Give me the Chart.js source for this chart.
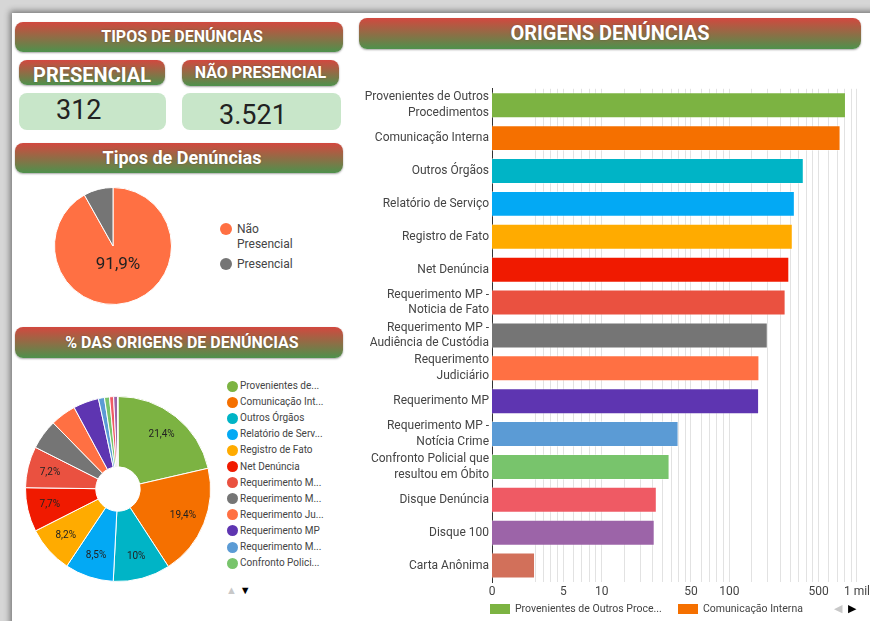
<!DOCTYPE html>
<html>
<head>
<meta charset="utf-8">
<script src="https://cdn.jsdelivr.net/npm/chart.js@4.4.1/dist/chart.umd.min.js"></script>
<style>
  body { margin: 0; width: 870px; height: 621px; overflow: hidden; background: #d6d6d6; font-family: Roboto, sans-serif; position: relative; }
  #panel { position: absolute; left: 12px; top: 13px; width: 900px; height: 660px; background: #fff; box-shadow: 0 0 6px 2px rgba(0,0,0,0.45); }
  .hdr { position: absolute; border-radius: 8px; background: linear-gradient(#d2483f, #4e914c); color: #fff; font-weight: bold; text-align: center; box-shadow: 0 1px 2px rgba(0,0,0,0.35); text-shadow: 0 0 2px rgba(0,0,0,0.25); white-space: nowrap; }
  .kpi { position: absolute; border-radius: 8px; background: #c8e6c9; color: #222; }
  .kpi span { position: absolute; }
  canvas { position: absolute; }
  .leg { position: absolute; font-size: 12px; color: #444; }
  .dot { position: absolute; border-radius: 50%; }
  .arrows { position: absolute; font-size: 11px; }
</style>
</head>
<body>
<div id="panel"></div>

<div class="hdr" style="left:15px;top:22px;width:328px;height:30px;line-height:30px;font-size:16px;text-indent:6px;">TIPOS DE DENÚNCIAS</div>
<div class="hdr" style="left:19px;top:60px;width:146px;height:25px;line-height:31px;font-size:20px;">PRESENCIAL</div>
<div class="hdr" style="left:182px;top:60px;width:157px;height:26px;line-height:26px;font-size:16px;">NÃO PRESENCIAL</div>
<div class="kpi" id="kpiPres" style="left:19px;top:93px;width:147px;height:37px;"><span style="left:37px;top:1px;font-size:27px;"></span></div>
<div class="kpi" id="kpiNao" style="left:182px;top:93px;width:159px;height:37px;"><span style="left:37px;top:6px;font-size:27px;"></span></div>
<div class="hdr" style="left:15px;top:143px;width:328px;height:30px;line-height:30px;font-size:18px;text-indent:6px;">Tipos de Denúncias</div>
<div class="hdr" style="left:15px;top:327px;width:328px;height:31px;line-height:31px;font-size:16px;text-indent:6px;">% DAS ORIGENS DE DENÚNCIAS</div>
<div class="hdr" style="left:359px;top:18px;width:502px;height:31px;line-height:31px;font-size:20px;">ORIGENS DENÚNCIAS</div>

<canvas id="tiposPie" width="118" height="118" style="left:54px;top:187px;"></canvas>
<div id="tiposLegend"></div>

<canvas id="origemPie" width="186" height="186" style="left:25px;top:396px;"></canvas>
<div id="origemLegend"></div>
<div class="arrows" style="left:226px;top:584px;"><span style="color:#c8c8c8;">▲</span> <span style="color:#000;">▼</span></div>

<canvas id="origemBar" width="513" height="526" style="left:360px;top:78px;"></canvas>
<div id="barLegend"></div>
<div class="arrows" style="left:834px;top:602px;color:#c8c8c8;">◀</div>
<div class="arrows" style="left:848px;top:602px;color:#000;">▶</div>

<script>
// ---- data ----
const tipoLabels = ['Não Presencial', 'Presencial'];
const tipoValues = [3521, 312];
const tipoColors = ['#ff7043', '#757575'];

const origemLabels = [
  ['Provenientes de Outros', 'Procedimentos'],
  ['Comunicação Interna'],
  ['Outros Órgãos'],
  ['Relatório de Serviço'],
  ['Registro de Fato'],
  ['Net Denúncia'],
  ['Requerimento MP -', 'Noticia de Fato'],
  ['Requerimento MP -', 'Audiência de Custódia'],
  ['Requerimento', 'Judiciário'],
  ['Requerimento MP'],
  ['Requerimento MP -', 'Notícia Crime'],
  ['Confronto Policial que', 'resultou em Óbito'],
  ['Disque Denúncia'],
  ['Disque 100'],
  ['Carta Anônima']
];
const origemValues = [820, 744, 383, 326, 314, 295, 276, 200, 172, 171, 40, 34, 27, 26, 3];
const origemColors = ['#7cb342', '#f57000', '#00b4c6', '#03a9f4', '#ffab00', '#f01a00', '#ea5140',
  '#757575', '#ff7043', '#5e35b1', '#5b9bd5', '#78c46c', '#ef5a64', '#9c64a8', '#d2705a'];

const xTickLabels = { 5: '5', 10: '10', 50: '50', 100: '100', 500: '500', 1000: '1 mil' };
const xMin = 1.38, xMax = 1000;

Chart.defaults.font.family = 'Roboto, sans-serif';

const fullName = l => l.join(' ');

function fmtPct(p) {
  let s = p.toFixed(1);
  if (s.endsWith('.0')) s = s.slice(0, -2);
  return s.replace('.', ',') + '%';
}

// truncate text to a pixel width, like the legend does
const measurer = document.createElement('canvas').getContext('2d');
function truncate(text, font, maxW) {
  measurer.font = font;
  if (measurer.measureText(text).width <= maxW) return text;
  let t = text;
  while (t.length > 1 && measurer.measureText(t + '...').width > maxW) t = t.slice(0, -1);
  return t.trimEnd() + '...';
}

// percentage labels inside the slices
const sliceLabels = {
  id: 'sliceLabels',
  afterDatasetsDraw(chart, args, opts) {
    const ctx = chart.ctx;
    const data = chart.data.datasets[0].data;
    const total = data.reduce((a, b) => a + b, 0);
    ctx.save();
    ctx.font = opts.font;
    ctx.fillStyle = opts.color;
    ctx.textAlign = 'center';
    ctx.textBaseline = 'middle';
    chart.getDatasetMeta(0).data.forEach((arc, i) => {
      const pct = data[i] / total * 100;
      if (pct < opts.minPct) return;
      const p = arc.getProps(['x', 'y', 'startAngle', 'endAngle', 'innerRadius', 'outerRadius']);
      const mid = (p.startAngle + p.endAngle) / 2;
      const r = p.innerRadius + (p.outerRadius - p.innerRadius) * opts.pos;
      ctx.fillText(fmtPct(pct), p.x + Math.cos(mid) * r, p.y + Math.sin(mid) * r);
    });
    ctx.restore();
  }
};

// KPIs
document.querySelector('#kpiPres span').textContent = tipoValues[1].toLocaleString('pt-BR');
document.querySelector('#kpiNao span').textContent = tipoValues[0].toLocaleString('pt-BR');

// Tipos pie
new Chart(document.getElementById('tiposPie'), {
  type: 'pie',
  data: { labels: tipoLabels, datasets: [{ data: tipoValues, backgroundColor: tipoColors, borderColor: '#fff', borderWidth: 1 }] },
  options: {
    responsive: false, animation: false,
    plugins: {
      legend: { display: false }, tooltip: { enabled: false },
      sliceLabels: { font: '17px Roboto, sans-serif', color: '#222', minPct: 50, pos: 0.34 }
    }
  },
  plugins: [sliceLabels]
});

const tiposLegend = document.getElementById('tiposLegend');
const tiposLegendText = [['Não', 'Presencial'], ['Presencial']];
let ty = 222;
tiposLegendText.forEach((lines, i) => {
  tiposLegend.insertAdjacentHTML('beforeend',
    `<div class="dot" style="left:220px;top:${ty + 1}px;width:12px;height:12px;background:${tipoColors[i]}"></div>` +
    `<div class="leg" style="left:237px;top:${ty}px;line-height:15px;">${lines.join('<br>')}</div>`);
  ty += lines.length * 15 + 5;
});

// Origens donut
new Chart(document.getElementById('origemPie'), {
  type: 'doughnut',
  data: { labels: origemLabels.map(fullName), datasets: [{ data: origemValues, backgroundColor: origemColors, borderColor: '#fff', borderWidth: 1 }] },
  options: {
    responsive: false, animation: false, cutout: '24%',
    plugins: {
      legend: { display: false }, tooltip: { enabled: false },
      sliceLabels: { font: '10px Roboto, sans-serif', color: '#222', minPct: 7, pos: 0.68 }
    }
  },
  plugins: [sliceLabels]
});

const origemLegend = document.getElementById('origemLegend');
origemLabels.slice(0, 12).forEach((l, i) => {
  const y = 386 + i * 16.1;
  const txt = truncate(fullName(l), '10px Roboto', 84);
  origemLegend.insertAdjacentHTML('beforeend',
    `<div class="dot" style="left:226.5px;top:${y - 5.5}px;width:11px;height:11px;background:${origemColors[i]}"></div>` +
    `<div class="leg" style="left:240px;top:${y - 7}px;font-size:10px;line-height:14px;">${txt}</div>`);
});

// Origens bar chart (log axis, zero at the left edge)
const gridValues = [xMin];
[1, 10, 100].forEach(d => {
  [1.5, 2, 2.5, 3, 3.5, 4, 4.5, 5, 6, 7, 8, 9, 10].forEach(m => {
    if (m * d >= 3) gridValues.push(m * d);
  });
});

new Chart(document.getElementById('origemBar'), {
  type: 'bar',
  data: {
    labels: origemLabels,
    datasets: [{
      data: origemValues,
      backgroundColor: origemColors,
      borderColor: 'rgba(255,255,255,0.35)',
      borderWidth: 1,
      barPercentage: 0.79,
      categoryPercentage: 1
    }]
  },
  options: {
    indexAxis: 'y',
    responsive: false, animation: false,
    layout: { padding: { top: 8, right: 0, left: 0, bottom: 0 } },
    plugins: { legend: { display: false }, tooltip: { enabled: false } },
    scales: {
      x: {
        type: 'logarithmic',
        min: xMin, max: xMax,
        afterBuildTicks(scale) { scale.ticks = gridValues.map(v => ({ value: v })); },
        afterFit(scale) { scale.height = 22; },
        grid: { color: '#e2e2e2', drawTicks: false },
        border: { display: false },
        ticks: {
          autoSkip: false, maxRotation: 0, padding: 3,
          color: '#444', font: { size: 12 },
          callback(v) { return v === xMin ? '0' : (xTickLabels[v] || ''); }
        }
      },
      y: {
        afterFit(scale) { scale.width = 132; },
        grid: { display: false, drawTicks: false },
        border: { color: '#333', width: 1 },
        ticks: { autoSkip: false, padding: 3, color: '#444', font: { size: 12, lineHeight: 1.3 } }
      }
    }
  }
});

const barLegend = document.getElementById('barLegend');
[[490, 515, 152], [678, 703, 130]].forEach((pos, i) => {
  const txt = truncate(fullName(origemLabels[i]), '10.5px Roboto', pos[2]);
  barLegend.insertAdjacentHTML('beforeend',
    `<div style="position:absolute;left:${pos[0]}px;top:604px;width:20px;height:10px;background:${origemColors[i]}"></div>` +
    `<div class="leg" style="left:${pos[1]}px;top:602px;font-size:10.5px;line-height:14px;">${txt}</div>`);
});
</script>
</body>
</html>
